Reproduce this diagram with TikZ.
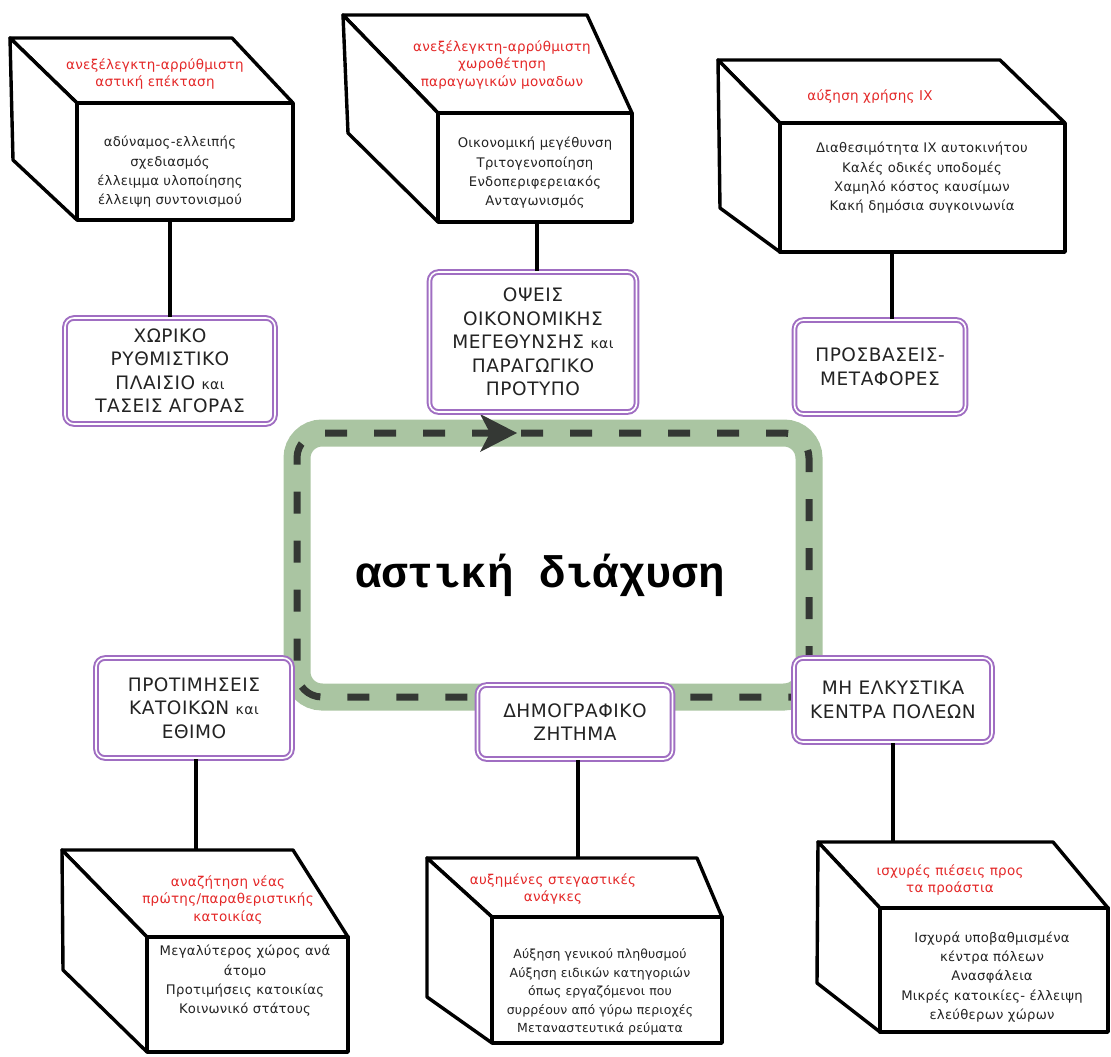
\documentclass[tikz,border=0pt]{standalone}
\usepackage{fontspec}
\setmainfont{DejaVu Sans}
\newfontfamily\titlefont{Liberation Mono}
\usetikzlibrary{fit}

\definecolor{loopgreen}{RGB}{170,197,162}
\definecolor{loopdash}{RGB}{52,56,52}
\definecolor{boxpurple}{RGB}{160,110,194}
\definecolor{causered}{RGB}{228,40,40}
\definecolor{inktext}{RGB}{35,35,35}

\tikzset{
  face/.style={draw=black, line width=3.4pt, line join=round, fill=white},
  causetext/.style={text=causered, align=center, inner sep=0pt,
    font=\fontsize{13.5}{17.5}\selectfont\addfontfeature{LetterSpace=2}},
  factortext/.style={text=inktext, align=center, inner sep=0pt,
    font=\fontsize{13.2}{19.3}\selectfont\addfontfeature{LetterSpace=2}},
  theme/.style={draw=boxpurple, line width=2pt, double=white, double distance=1.6pt,
    rounded corners=9pt, fill=white, align=center, inner sep=2pt, text=inktext,
    font=\fontsize{18.5}{23.5}\selectfont\addfontfeature{LetterSpace=3}},
  link/.style={draw=black, line width=3.4pt},
}

% small lower-case "και" inside the capitalised theme labels
\newcommand\smallkai{{\fontsize{14}{14}\selectfont και}}

% box in perspective: #1 name, #2 back-top-left, #3 back-top-right,
% #4 front-top-left, #5 front-bottom-right, #6 back-bottom-left
\newcommand\cubebox[6]{%
  \coordinate (#1btl) at (#2);
  \coordinate (#1btr) at (#3);
  \coordinate (#1ftl) at (#4);
  \coordinate (#1fbr) at (#5);
  \coordinate (#1bbl) at (#6);
  \path[face] (#1btl) -- (#1btr) -- (#1ftl -| #1fbr) -- (#1ftl) -- cycle;
  \path[face] (#1btl) -- (#1ftl) -- (#1ftl |- #1fbr) -- (#1bbl) -- cycle;
  \node[face, inner sep=0pt, fit=(#1ftl)(#1fbr)] (#1) {};
}

\begin{document}
\begin{tikzpicture}[x=1pt, y=-1pt]
\useasboundingbox (0,0) rectangle (1111,1057);

% central loop
\draw[loopgreen, line width=27pt, rounded corners=25pt] (297,433) rectangle (809,697);
\draw[loopdash, line width=7pt, dash pattern=on 22pt off 27pt, rounded corners=25pt]
  (809,668) -- (809,433) -- (297,433) -- (297,697) -- (806,697);
\fill[loopdash] (816,697) -- (804,689) -- (804,705) -- cycle;
\fill[loopdash] (517,433) -- (480,414) -- (490,433) -- (480,452) -- cycle;
\node[font=\titlefont\bfseries\fontsize{44}{50}\selectfont, text=black] (title) at (540,575) {αστική διάχυση};

% top row of boxes
\cubebox{c1}{10,38}{232,38}{77,103}{293,220}{13,160}
\node[causetext] (c1cause) at (155,74) {ανεξέλεγκτη-αρρύθμιστη\\αστική επέκταση};
\node[factortext] (c1list) at (170,172) {αδύναμος-ελλειπής\\σχεδιασμός\\έλλειμμα υλοποίησης\\έλλειψη συντονισμού};

\cubebox{c2}{343,15}{587,15}{438,113}{632,222}{348,133}
\node[causetext] (c2cause) at (502,65) {ανεξέλεγκτη-αρρύθμιστη\\χωροθέτηση\\παραγωγικών μοναδων};
\node[factortext] (c2list) at (535,173) {Οικονομική μεγέθυνση\\Τριτογενοποίηση\\Ενδοπεριφερειακός\\Ανταγωνισμός};

\cubebox{c3}{718,60}{1000,60}{780,123}{1065,252}{720,208}
\node[causetext] (c3cause) at (870,97) {αύξηση χρήσης ΙΧ};
\node[factortext] (c3list) at (922,178) {Διαθεσιμότητα ΙΧ αυτοκινήτου\\Καλές οδικές υποδομές\\Χαμηλό κόστος καυσίμων\\Κακή δημόσια συγκοινωνία};

% bottom row of boxes
\cubebox{c4}{62,850}{293,850}{147,937}{348,1052}{63,970}
\node[causetext] (c4cause) at (228,900) {αναζήτηση νέας\\πρώτης/παραθεριστικής\\κατοικίας};
\node[factortext] (c4list) at (245,981) {Μεγαλύτερος χώρος ανά\\άτομο\\Προτιμήσεις κατοικίας\\Κοινωνικό στάτους};

\cubebox{c5}{427,858}{697,858}{492,917}{722,1043}{427,997}
\node[causetext] (c5cause) at (553,889) {αυξημένες στεγαστικές\\ανάγκες};
\node[factortext, font=\fontsize{12.5}{18.5}\selectfont\addfontfeature{LetterSpace=1}] (c5list) at (600,992) {Αύξηση γενικού πληθυσμού\\Αύξηση ειδικών κατηγοριών\\όπως εργαζόμενοι που\\συρρέουν από γύρω περιοχές\\Μεταναστευτικά ρεύματα};

\cubebox{c6}{818,842}{1053,842}{880,908}{1108,1032}{817,983}
\node[causetext] (c6cause) at (950,880) {ισχυρές πιέσεις προς\\τα προάστια};
\node[factortext] (c6list) at (992,977) {Ισχυρά υποβαθμισμένα\\κέντρα πόλεων\\Ανασφάλεια\\Μικρές κατοικίες- έλλειψη\\ελεύθερων χώρων};

% themes around the loop
\node[theme, minimum width=210pt, minimum height=106pt] (p1) at (170,371)
  {ΧΩΡΙΚΟ\\ΡΥΘΜΙΣΤΙΚΟ\\ΠΛΑΙΣΙΟ \smallkai\\ΤΑΣΕΙΣ ΑΓΟΡΑΣ};
\node[theme, minimum width=207pt, minimum height=140pt] (p2) at (533,342)
  {ΟΨΕΙΣ\\ΟΙΚΟΝΟΜΙΚΗΣ\\ΜΕΓΕΘΥΝΣΗΣ \smallkai\\ΠΑΡΑΓΩΓΙΚΟ\\ΠΡΟΤΥΠΟ};
\node[theme, minimum width=171pt, minimum height=94pt] (p3) at (880,367)
  {ΠΡΟΣΒΑΣΕΙΣ-\\ΜΕΤΑΦΟΡΕΣ};
\node[theme, minimum width=196pt, minimum height=100pt] (p4) at (194,708)
  {ΠΡΟΤΙΜΗΣΕΙΣ\\ΚΑΤΟΙΚΩΝ \smallkai\\ΕΘΙΜΟ};
\node[theme, minimum width=195pt, minimum height=74pt] (p5) at (575,722)
  {ΔΗΜΟΓΡΑΦΙΚΟ\\ΖΗΤΗΜΑ};
\node[theme, minimum width=198pt, minimum height=84pt] (p6) at (893,700)
  {ΜΗ ΕΛΚΥΣΤΙΚΑ\\ΚΕΝΤΡΑ ΠΟΛΕΩΝ};

% connectors between themes and boxes
\draw[link] (p1.north) -- (p1.north |- c1.south);
\draw[link] ([xshift=4pt]p2.north) -- ([xshift=4pt]p2.north |- c2.south);
\draw[link] ([xshift=12pt]p3.north) -- ([xshift=12pt]p3.north |- c3.south);
\draw[link] ([xshift=2pt]p4.south) -- ([xshift=2pt]p4.south |- c4btl);
\draw[link] ([xshift=3pt]p5.south) -- ([xshift=3pt]p5.south |- c5btl);
\draw[link] (p6.south) -- (p6.south |- c6btl);
\end{tikzpicture}
\end{document}
